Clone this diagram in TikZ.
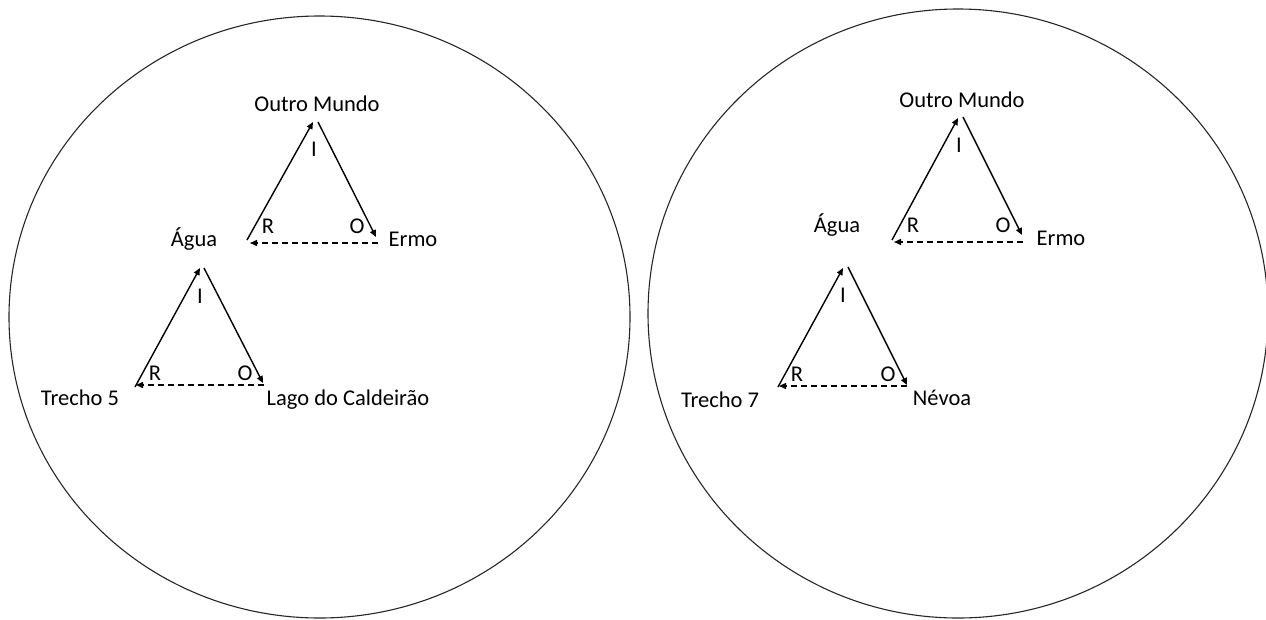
\documentclass[tikz,border=0pt]{standalone}
\usepackage{fontspec}
\setmainfont{Carlito}
\usetikzlibrary{arrows.meta}
\begin{document}
\begin{tikzpicture}[x=1pt,y=-1pt,
  lbl/.style={font=\fontsize{22.5}{27}\selectfont, inner sep=0pt, anchor=base},
  solidarrow/.style={line width=1.4pt, -{Triangle[length=7pt,width=6pt]}},
  dasharrow/.style={solidarrow, dash pattern=on 6pt off 4pt},
  rim/.style={line width=1.1pt, draw=black!85}]
\useasboundingbox (0,0) rectangle (1266,619);

% ---------- left world ----------
\draw[rim] (319.5,317) ellipse [x radius=310.5pt, y radius=301pt];

% upper triangle
\node[lbl] (om1) at (317,111) {Outro Mundo};
\node[lbl] (ag1) at (194,246) {Água};
\node[lbl] (er1) at (413,246) {Ermo};
\node[lbl] (r1) at (268,233) {R};
\node[lbl] (o1) at (357,233) {O};
\node[lbl] (i1) at (314,156) {I};
\coordinate (t1l) at (313,122);
\coordinate (t1r) at (318,122);
\coordinate (b1l) at (247,240);
\coordinate (b1r) at (376,237);
\coordinate (d1s) at (378,243);
\coordinate (d1e) at (250,243);
\draw[solidarrow] (b1l) -- (t1l);
\draw[solidarrow] (t1r) -- (b1r);
\draw[dasharrow] (d1s) -- (d1e);

% lower triangle
\node[lbl] (tr5) at (80,405) {Trecho 5};
\node[lbl] (lc) at (348,405) {Lago do Caldeirão};
\node[lbl] (r2) at (155,380.5) {R};
\node[lbl] (o2) at (245,380.5) {O};
\node[lbl] (i2) at (200,303) {I};
\coordinate (t2l) at (200,268);
\coordinate (t2r) at (204,268);
\coordinate (b2l) at (135,387);
\coordinate (b2r) at (263,383);
\coordinate (d2s) at (264,385);
\coordinate (d2e) at (136,385);
\draw[solidarrow] (b2l) -- (t2l);
\draw[solidarrow] (t2r) -- (b2r);
\draw[dasharrow] (d2s) -- (d2e);

% ---------- right world ----------
\draw[rim] (958,313.5) ellipse [x radius=310pt, y radius=304.5pt];

% upper triangle
\node[lbl] (om2) at (962,107) {Outro Mundo};
\node[lbl] (ag2) at (837,232) {Água};
\node[lbl] (er2) at (1061,245) {Ermo};
\node[lbl] (r3) at (913,232) {R};
\node[lbl] (o3) at (1003,232) {O};
\node[lbl] (i3) at (959,152) {I};
\coordinate (t3l) at (958,118);
\coordinate (t3r) at (963,117);
\coordinate (b3l) at (892,240);
\coordinate (b3r) at (1022,235);
\coordinate (d3s) at (1023,242);
\coordinate (d3e) at (894,242);
\draw[solidarrow] (b3l) -- (t3l);
\draw[solidarrow] (t3r) -- (b3r);
\draw[dasharrow] (d3s) -- (d3e);

% lower triangle
\node[lbl] (tr7) at (720,407) {Trecho 7};
\node[lbl] (nv) at (942,405) {Névoa};
\node[lbl] (r4) at (797,381.5) {R};
\node[lbl] (o4) at (888,381.5) {O};
\node[lbl] (i4) at (843,302) {I};
\coordinate (t4l) at (843,268);
\coordinate (t4r) at (848,267);
\coordinate (b4l) at (778,387);
\coordinate (b4r) at (907,385);
\coordinate (d4s) at (907,386);
\coordinate (d4e) at (779,386);
\draw[solidarrow] (b4l) -- (t4l);
\draw[solidarrow] (t4r) -- (b4r);
\draw[dasharrow] (d4s) -- (d4e);
\end{tikzpicture}
\end{document}
